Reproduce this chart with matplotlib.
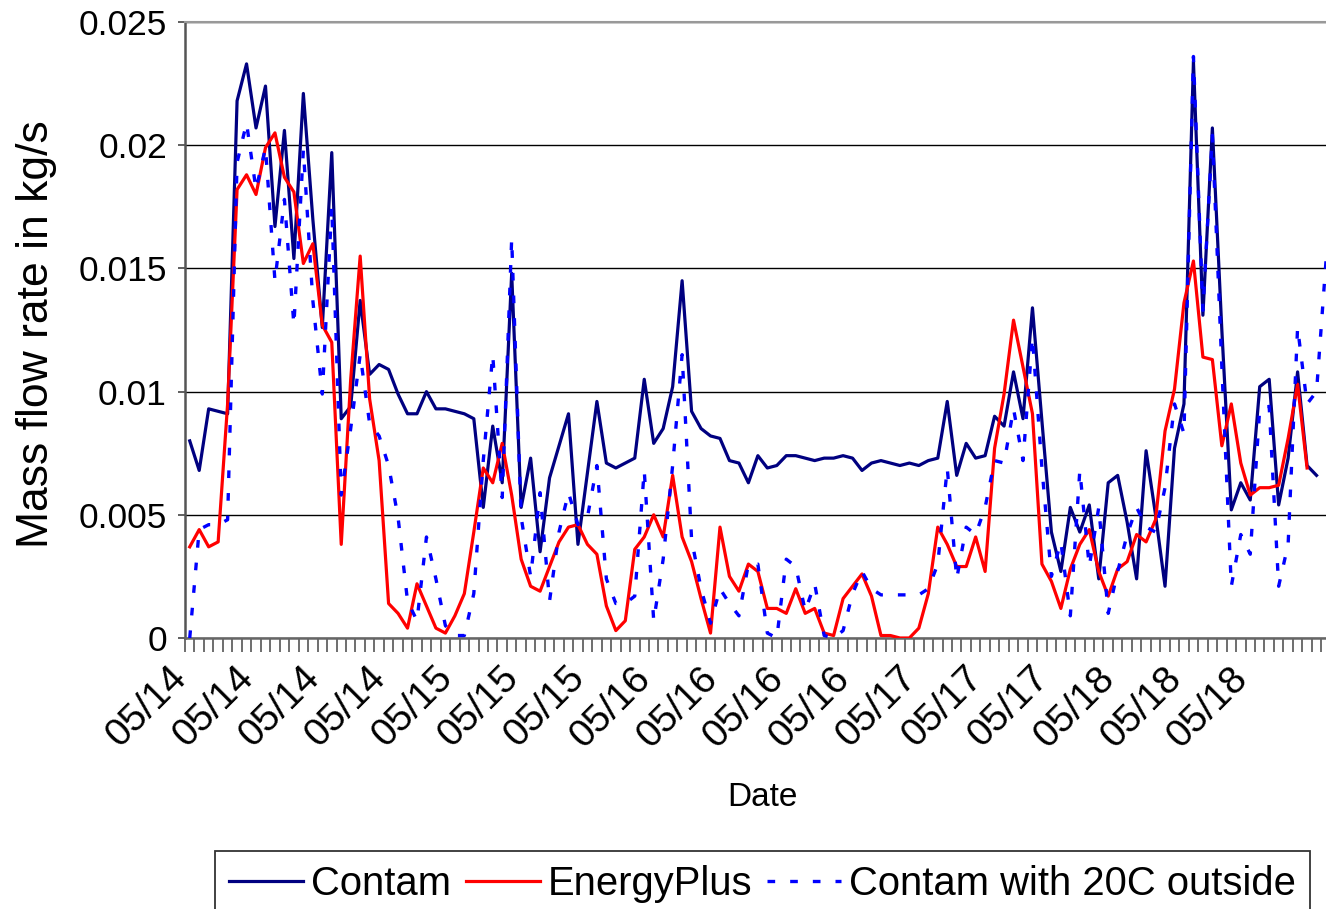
import numpy as np
import matplotlib
matplotlib.use("Agg")
import matplotlib.pyplot as plt
from matplotlib.ticker import FixedLocator
from matplotlib.transforms import ScaledTranslation

plt.rcParams['font.family'] = ['Liberation Sans', 'DejaVu Sans']

# Hourly mass flow rates (kg/s), 05/14 00:00 onwards
contam = [
    0.0080, 0.0068, 0.0093, 0.0092, 0.0091, 0.0218, 0.0233, 0.0207, 0.0224, 0.0167,
    0.0206, 0.0154, 0.0221, 0.0170, 0.0126, 0.0197, 0.0089, 0.0094, 0.0137, 0.0107,
    0.0111, 0.0109, 0.0099, 0.0091, 0.0091, 0.0100, 0.0093, 0.0093, 0.0092, 0.0091,
    0.0089, 0.0053, 0.0086, 0.0063, 0.0148, 0.0053, 0.0073, 0.0035, 0.0065, 0.0078,
    0.0091, 0.0038, 0.0067, 0.0096, 0.0071, 0.0069, 0.0071, 0.0073, 0.0105, 0.0079,
    0.0085, 0.0102, 0.0145, 0.0092, 0.0085, 0.0082, 0.0081, 0.0072, 0.0071, 0.0063,
    0.0074, 0.0069, 0.0070, 0.0074, 0.0074, 0.0073, 0.0072, 0.0073, 0.0073, 0.0074,
    0.0073, 0.0068, 0.0071, 0.0072, 0.0071, 0.0070, 0.0071, 0.0070, 0.0072, 0.0073,
    0.0096, 0.0066, 0.0079, 0.0073, 0.0074, 0.0090, 0.0086, 0.0108, 0.0089, 0.0134,
    0.0088, 0.0043, 0.0027, 0.0053, 0.0043, 0.0054, 0.0024, 0.0063, 0.0066, 0.0047,
    0.0024, 0.0076, 0.0050, 0.0021, 0.0077, 0.0095, 0.0234, 0.0131, 0.0207, 0.0125,
    0.0052, 0.0063, 0.0056, 0.0102, 0.0105, 0.0054, 0.0073, 0.0108, 0.0070, 0.0066,
]

energyplus = [
    0.0037, 0.0044, 0.0037, 0.0039, 0.0095, 0.0182, 0.0188, 0.0180, 0.0199, 0.0205,
    0.0187, 0.0181, 0.0152, 0.0160, 0.0127, 0.0120, 0.0038, 0.0105, 0.0155, 0.0097,
    0.0072, 0.0014, 0.0010, 0.0004, 0.0022, 0.0013, 0.0004, 0.0002, 0.0009, 0.0018,
    0.0043, 0.0069, 0.0063, 0.0079, 0.0058, 0.0032, 0.0021, 0.0019, 0.0029, 0.0039,
    0.0045, 0.0046, 0.0038, 0.0034, 0.0013, 0.0003, 0.0007, 0.0036, 0.0041, 0.0050,
    0.0041, 0.0066, 0.0041, 0.0031, 0.0016, 0.0002, 0.0045, 0.0025, 0.0019, 0.0030,
    0.0027, 0.0012, 0.0012, 0.0010, 0.0020, 0.0010, 0.0012, 0.0002, 0.0001, 0.0016,
    0.0021, 0.0026, 0.0017, 0.0001, 0.0001, 0.0000, 0.0000, 0.0004, 0.0018, 0.0045,
    0.0038, 0.0029, 0.0029, 0.0041, 0.0027, 0.0077, 0.0099, 0.0129, 0.0110, 0.0091,
    0.0030, 0.0023, 0.0012, 0.0028, 0.0038, 0.0044, 0.0027, 0.0017, 0.0028, 0.0031,
    0.0042, 0.0039, 0.0048, 0.0084, 0.0101, 0.0136, 0.0153, 0.0114, 0.0113, 0.0078,
    0.0095, 0.0071, 0.0058, 0.0061, 0.0061, 0.0062, 0.0081, 0.0103, 0.0069,
]

contam_20c = [
    0.0000, 0.0044, 0.0046, 0.0046, 0.0048, 0.0193, 0.0209, 0.0182, 0.0199, 0.0145,
    0.0178, 0.0127, 0.0198, 0.0137, 0.0099, 0.0175, 0.0058, 0.0085, 0.0115, 0.0087,
    0.0082, 0.0070, 0.0049, 0.0015, 0.0007, 0.0041, 0.0024, 0.0005, 0.0001, 0.0001,
    0.0018, 0.0072, 0.0115, 0.0057, 0.0162, 0.0049, 0.0025, 0.0059, 0.0015, 0.0043,
    0.0059, 0.0046, 0.0049, 0.0070, 0.0024, 0.0014, 0.0014, 0.0017, 0.0068, 0.0007,
    0.0032, 0.0070, 0.0115, 0.0040, 0.0020, 0.0006, 0.0020, 0.0014, 0.0009, 0.0030,
    0.0030, 0.0002, 0.0000, 0.0032, 0.0029, 0.0011, 0.0022, 0.0001, 0.0000, 0.0003,
    0.0018, 0.0027, 0.0020, 0.00175, 0.00175, 0.00175, 0.00175, 0.00175, 0.0020, 0.0030,
    0.0069, 0.0024, 0.0045, 0.0042, 0.0053, 0.0072, 0.0071, 0.0093, 0.0072, 0.0122,
    0.0069, 0.0025, 0.0039, 0.0009, 0.0068, 0.0029, 0.0053, 0.0010, 0.0027, 0.0042,
    0.0053, 0.0045, 0.0043, 0.0061, 0.0095, 0.0083, 0.0236, 0.0133, 0.0204, 0.0110,
    0.0021, 0.0042, 0.0034, 0.0093, 0.0094, 0.0021, 0.0038, 0.0126, 0.0095, 0.0100,
    0.0153,
]

date_labels = (["05/14"] * 4 + ["05/15"] * 3 + ["05/16"] * 4
               + ["05/17"] * 3 + ["05/18"] * 3)
label_step = 7
y_ticks = [0, 0.005, 0.01, 0.015, 0.02, 0.025]
y_tick_labels = ['0', '0.005', '0.01', '0.015', '0.02', '0.025']
series_names = ["Contam", "EnergyPlus", "Contam with 20C outside"]

W, H = 1326, 909
fig = plt.figure(figsize=(W / 100, H / 100), dpi=100)
ax = fig.add_axes([185 / W, 1 - 638 / H, 1141 / W, 616 / H])

ax.plot(np.arange(len(contam)), contam, color='#000080', lw=2.3,
        label=series_names[0], zorder=3)
ax.plot(np.arange(len(energyplus)), energyplus, color='#FF0000', lw=2.3,
        label=series_names[1], zorder=4)
ax.plot(np.arange(len(contam_20c)), contam_20c, color='#0000FF', lw=2.4,
        linestyle=(0, (2.3, 4.5)), dash_capstyle='butt',
        label=series_names[2], zorder=5)

ax.set_xlim(-0.5, 120.0)
ax.set_ylim(0, 0.025)

# y axis
ax.set_yticks(y_ticks)
ax.set_yticklabels(y_tick_labels)
ax.tick_params(axis='y', which='major', direction='out', length=5, width=1.2,
               color='#444444', labelsize=25.5, pad=8)
ax.grid(axis='y', color='black', lw=1.0, zorder=1)
ax.set_axisbelow(True)

# x axis: a tick between every hour, a date label every 7 hours
ax.xaxis.set_minor_locator(FixedLocator(np.arange(-0.5, 120.0, 1.0)))
label_pos = np.arange(len(date_labels)) * label_step
ax.set_xticks(label_pos)
ax.set_xticklabels(date_labels, rotation=45, ha='right', va='baseline',
                   rotation_mode='anchor')
ax.tick_params(axis='x', which='major', length=0, labelsize=28, pad=30)
ax.tick_params(axis='x', which='minor', direction='out', length=10, width=1.2,
               color='#555555')
shift = ScaledTranslation(-1 / 100, 0, fig.dpi_scale_trans)
for lbl in ax.get_xticklabels():
    lbl.set_transform(lbl.get_transform() + shift)

ax.spines['right'].set_visible(False)
ax.spines['top'].set_color('#999999')
ax.spines['top'].set_linewidth(1.5)
ax.spines['left'].set_color('#555555')
ax.spines['left'].set_linewidth(1.8)
ax.spines['bottom'].set_color('#666666')
ax.spines['bottom'].set_linewidth(1.8)

fig.text(37 / W, 1 - 334 / H, 'Mass flow rate in kg/s', rotation=90,
         ha='center', va='center', fontsize=32)
fig.text(762 / W, 1 - 797 / H, 'Date', ha='center', va='center', fontsize=24)

leg = fig.legend(loc='upper left', bbox_to_anchor=(215 / W, 1 - 851 / H),
                 ncol=3, fontsize=28.8, frameon=True, fancybox=False,
                 edgecolor='black', borderaxespad=0, borderpad=0.35,
                 handlelength=1.85, handletextpad=0.2, columnspacing=0.37)
leg.get_frame().set_linewidth(1.3)

fig.savefig('out.png', dpi=100)
